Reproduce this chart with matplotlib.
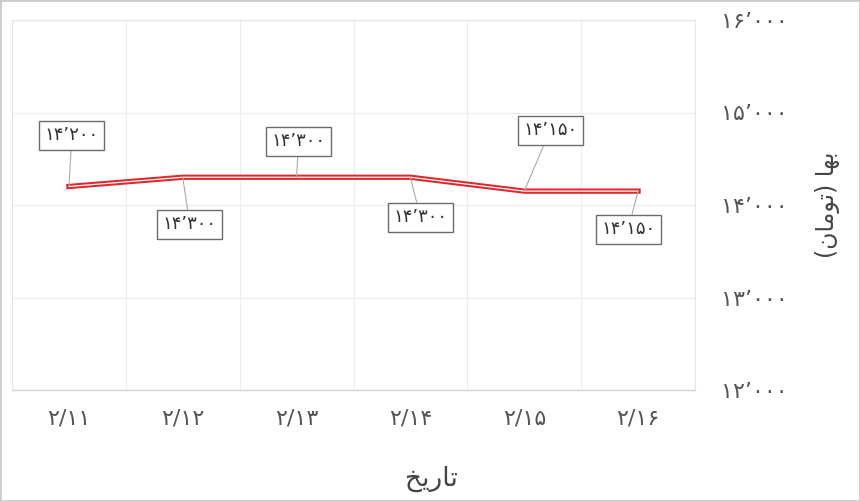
import matplotlib
matplotlib.use("Agg")
import matplotlib.pyplot as plt
from matplotlib.patches import Rectangle

# ---- data ----
categories = ["۲/۱۱", "۲/۱۲", "۲/۱۳", "۲/۱۴", "۲/۱۵", "۲/۱۶"]
values = [14200, 14300, 14300, 14300, 14150, 14150]
value_labels = ["۱۴’۲۰۰", "۱۴’۳۰۰", "۱۴’۳۰۰", "۱۴’۳۰۰", "۱۴’۱۵۰", "۱۴’۱۵۰"]
y_ticks = [12000, 13000, 14000, 15000, 16000]
y_tick_labels = ["۱۲’۰۰۰", "۱۳’۰۰۰", "۱۴’۰۰۰", "۱۵’۰۰۰", "۱۶’۰۰۰"]
# Arabic-script titles written with presentation forms in visual order
x_title = "\uFEA6\uFBFE\uFEAD\uFE8E\uFE97"                      # تاریخ
y_title = "(\uFEE5\uFE8E\uFEE3\uFEEE\uFE97) \uFE8E\uFEEC\uFE91"  # بها (تومان)

# label offsets (pixels) for annotation boxes
label_offsets = [(3, 51), (7, -47), (2, 36), (10, -40), (26, 61), (-10, -38)]

plt.rcParams['font.family'] = ['DejaVu Sans']

fig = plt.figure(figsize=(8.6, 5.01), dpi=100)
ax = fig.add_axes([12/860, 1-390/501, (695-12)/860, (390-20)/501])

x = list(range(len(categories)))
ax.plot(x, values, color="#e3262b", lw=3.8, solid_joinstyle="miter", zorder=3)
ax.plot(x, values, color="white", lw=0.9, solid_joinstyle="miter", zorder=4)

for xi, v, lab, off in zip(x, values, value_labels, label_offsets):
    ax.annotate(lab, xy=(xi, v), xytext=off, textcoords="offset pixels",
                ha="center", va="center", fontsize=13, color="#333333",
                bbox=dict(boxstyle="square,pad=0.3", fc="white", ec="#6b6b6b", lw=1),
                arrowprops=dict(arrowstyle="-", color="#aaaaaa", lw=0.8,
                                shrinkA=0, shrinkB=0),
                zorder=5)

ax.set_xlim(-0.5, len(categories) - 0.5)
ax.set_ylim(12000, 16000)
ax.set_xticks(x)
ax.set_xticklabels(categories)
ax.set_xticks([i + 0.5 for i in x[:-1]], minor=True)
ax.set_yticks(y_ticks)
ax.set_yticklabels(y_tick_labels)
ax.yaxis.tick_right()
ax.yaxis.set_label_position("right")
ax.tick_params(axis="both", which="both", length=0)
ax.tick_params(axis="y", pad=19, labelsize=16, labelcolor="#555555")
ax.tick_params(axis="x", pad=13, labelsize=16, labelcolor="#555555")

ax.grid(False)
ax.grid(axis="y", which="major", color="#ececec", lw=0.8)
ax.grid(axis="x", which="minor", color="#ececec", lw=0.8)

for s in ["left", "top", "right"]:
    ax.spines[s].set_color("#e6e6e6")
    ax.spines[s].set_linewidth(0.8)
ax.spines["bottom"].set_color("#d5d5d5")
ax.spines["bottom"].set_linewidth(1.0)

ax.set_xlabel(x_title, fontsize=19, color="#444444")
ax.xaxis.set_label_coords((431-12)/683, -(466-390)/370)
ax.set_ylabel(y_title, fontsize=17, color="#444444", rotation=90)
ax.yaxis.set_label_coords((815-12)/683, 0.5)

fig.patches.append(Rectangle((0, 0), 1, 1, transform=fig.transFigure,
                             fill=False, ec="#cccccc", lw=2))

fig.savefig("out.png", dpi=100)
